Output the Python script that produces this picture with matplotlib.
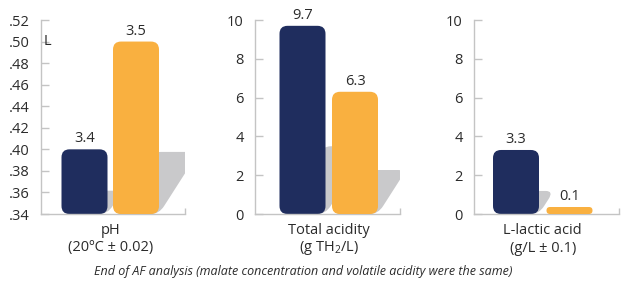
import numpy as np
import matplotlib
matplotlib.use("Agg")
import matplotlib.pyplot as plt
from matplotlib.patches import FancyBboxPatch
from matplotlib.transforms import Affine2D

plt.rcParams['font.family'] = ['Open Sans', 'DejaVu Sans']
plt.rcParams['mathtext.fontset'] = 'custom'
plt.rcParams['mathtext.rm'] = 'Open Sans'

# data
categories = ['pH\n(20ºC ± 0.02)', 'Total acidity\n(g TH$_2$/L)', 'L-lactic acid\n(g/L ± 0.1)']
before_af = [3.4, 9.7, 3.3]   # navy
after_af = [3.5, 6.3, 0.1]    # orange
ylims = [(3.34, 3.52), (0, 10), (0, 10)]
yticks = [np.arange(3.34, 3.5201, 0.02), np.arange(0, 10.01, 2), np.arange(0, 10.01, 2)]
ph_ticklabels = ['.34', '.36', '.38', '.40', '.42', '.44', '.46', '.48', '.50', '.52']
footnote = 'End of AF analysis (malate concentration and volatile acidity were the same)'

navy = '#1f2d5e'
orange = '#f9b040'
shadow = '#c9c9cb'
axis_gray = '#c4c4c4'
text_col = '#2b2b2b'

W, H = 622, 282
fig = plt.figure(figsize=(W / 100, H / 100), dpi=100)

# axes placement in pixels: left spine, right end, and bar-centre offsets
panels = [
    dict(left=41, right=185, c0=84.5, c1=136),
    dict(left=255, right=400, c0=302.5, c1=355),
    dict(left=474, right=619, c0=516, c1=569.5),
]
top_px, bot_px = 20, 214
bar_px = 46
radius_px = 8
shadow_ratio = 0.36
shear = 0.64


def rounded_bar(ax, x, y0, h, w, color, sx, sy, z, transform=None):
    aspect = sx / sy  # data-y per px over data-x per px
    r = radius_px / sx
    rr = min(r, h / aspect / 2)
    p = FancyBboxPatch((x - w / 2, y0), w, h,
                       boxstyle='round,pad=0,rounding_size=%f' % rr,
                       mutation_aspect=aspect, fc=color, ec='none', zorder=z)
    if transform is not None:
        p.set_transform(transform)
    ax.add_patch(p)


for i, pnl in enumerate(panels):
    ax = fig.add_axes([pnl['left'] / W, (H - bot_px) / H,
                       (pnl['right'] - pnl['left']) / W, (bot_px - top_px) / H])
    spacing = pnl['c1'] - pnl['c0']
    xmin = -(pnl['c0'] - pnl['left']) / spacing
    xmax = 1 + (pnl['right'] - pnl['c1']) / spacing
    ymin, ymax = ylims[i]
    ax.set_xlim(xmin, xmax)
    ax.set_ylim(ymin, ymax)

    sx = spacing                          # px per x unit
    sy = (bot_px - top_px) / (ymax - ymin)  # px per y unit
    w = bar_px / sx

    for j, (val, col) in enumerate([(before_af[i], navy), (after_af[i], orange)]):
        h = val - ymin
        h_px = max(h * sy, 7)
        h = h_px / sy
        # skewed drop shadow behind the bar
        if h_px > 10:
            k = shear * sy / sx
            tr = (Affine2D().translate(0, -ymin).skew(np.arctan(k), 0)
                  .translate(0, ymin) + ax.transData)
            rounded_bar(ax, j, ymin, h * shadow_ratio, w, shadow, sx, sy, 1 + j * 2, tr)
        rounded_bar(ax, j, ymin, h, w, col, sx, sy, 2 + j * 2)
        ax.text(j, ymin + h + 3 / sy, ('%.1f' % val), ha='center', va='bottom',
                fontsize=10.5, color=text_col, zorder=6)

    for s in ['top', 'right']:
        ax.spines[s].set_visible(False)
    for s in ['left', 'bottom']:
        ax.spines[s].set_color(axis_gray)
        ax.spines[s].set_linewidth(1)
    ax.set_yticks(yticks[i])
    if i == 0:
        ax.set_yticklabels(ph_ticklabels)
    ax.tick_params(axis='y', direction='in', length=6, width=1, color=axis_gray,
                   pad=8, labelsize=10.5, labelcolor=text_col)
    ax.set_xticks([xmax])
    ax.set_xticklabels([''])
    ax.tick_params(axis='x', direction='in', length=4, width=1, color=axis_gray)
    ax.patch.set_alpha(0)

    cx = (pnl['c0'] + pnl['c1']) / 2 / W
    fig.text(cx, 1 - 230 / H, categories[i].split('\n')[0], ha='center', va='center',
             fontsize=10.5, color=text_col)
    fig.text(cx, 1 - 248 / H, categories[i].split('\n')[1], ha='center', va='center',
             fontsize=10.5, color=text_col)

    if i == 0:
        ax.text(0.02, 3.50, 'L', transform=ax.get_yaxis_transform(), ha='left',
                va='center', fontsize=10.5, color=text_col)

fig.text(303 / W, 1 - 272 / H, footnote, ha='center', va='center', fontsize=9,
         style='italic', color=text_col)

fig.savefig('out.png', dpi=100)
